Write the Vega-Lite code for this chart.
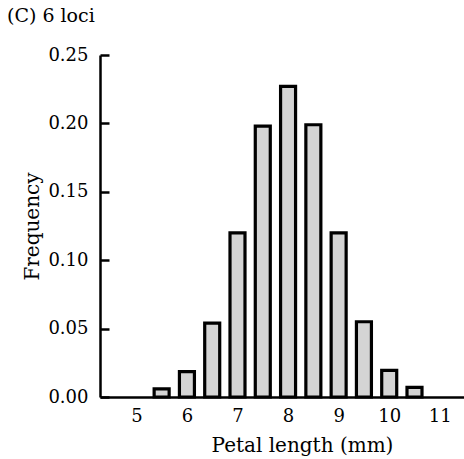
{
  "$schema": "https://vega.github.io/schema/vega-lite/v6.json",
  "width": 364,
  "height": 342,
  "autosize": "none",
  "padding": {"left": 100, "top": 55, "right": 0, "bottom": 62},
  "background": "white",
  "title": {
    "text": "(C)  6 loci",
    "anchor": "start",
    "frame": "group",
    "orient": "top",
    "font": "DejaVu Serif",
    "fontSize": 19,
    "fontWeight": "normal",
    "color": "black",
    "dx": -93,
    "offset": 20
  },
  "data": {
    "values": [
      {"length": 5.5, "freq": 0.006},
      {"length": 6.0, "freq": 0.0185},
      {"length": 6.5, "freq": 0.054},
      {"length": 7.0, "freq": 0.12},
      {"length": 7.5, "freq": 0.198},
      {"length": 8.0, "freq": 0.227},
      {"length": 8.5, "freq": 0.199},
      {"length": 9.0, "freq": 0.12},
      {"length": 9.5, "freq": 0.055},
      {"length": 10.0, "freq": 0.0195},
      {"length": 10.5, "freq": 0.007}
    ]
  },
  "mark": {"type": "bar", "width": 15, "fill": "#d4d4d4", "stroke": "black", "strokeWidth": 3.2},
  "encoding": {
    "x": {
      "field": "length",
      "type": "quantitative",
      "scale": {"domain": [4.38, 11.38], "nice": false, "zero": false},
      "axis": {
        "values": [5, 6, 7, 8, 9, 10, 11],
        "format": "d",
        "ticks": false,
        "grid": false,
        "domainColor": "black",
        "domainWidth": 2.5,
        "labelPadding": 10,
        "labelFont": "DejaVu Serif",
        "labelFontSize": 18,
        "labelColor": "black",
        "title": "Petal length (mm)",
        "titleFont": "DejaVu Serif",
        "titleFontSize": 20,
        "titleFontWeight": "normal",
        "titleColor": "black",
        "titlePadding": 10,
        "titleX": 202
      }
    },
    "y": {
      "field": "freq",
      "type": "quantitative",
      "scale": {"domain": [0, 0.25], "nice": false},
      "axis": {
        "values": [0, 0.05, 0.1, 0.15, 0.2, 0.25],
        "format": ".2f",
        "grid": false,
        "ticks": true,
        "tickSize": -9,
        "tickWidth": 2.5,
        "tickColor": "black",
        "domainColor": "black",
        "domainWidth": 2.5,
        "labelPadding": 21,
        "labelFont": "DejaVu Serif",
        "labelFontSize": 18,
        "labelColor": "black",
        "title": "Frequency",
        "titleFont": "DejaVu Serif",
        "titleFontSize": 20,
        "titleFontWeight": "normal",
        "titleColor": "black",
        "titlePadding": 5
      }
    }
  },
  "config": {"view": {"stroke": null}}
}
